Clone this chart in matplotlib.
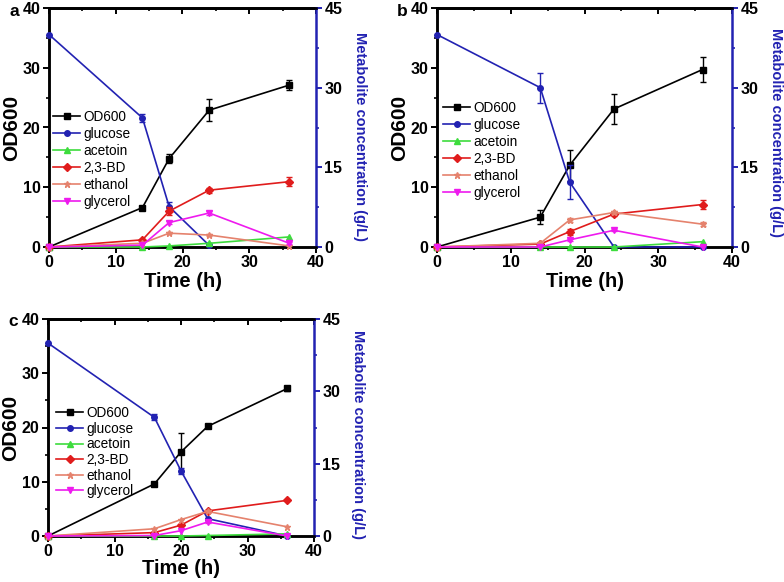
import matplotlib.pyplot as plt
import numpy as np
from matplotlib.ticker import MultipleLocator

plt.rcParams['font.family'] = ['Liberation Sans', 'DejaVu Sans']

W, H = 784, 582

# sampling times (h)
t_ab = [0, 14, 18, 24, 36]
t_c = [0, 16, 20, 24, 36]

# panel a
od_a = [0, 6.6, 14.8, 22.9, 27.1]
od_a_err = [0, 0.3, 0.8, 1.8, 0.9]
glc_a_t = [0, 14, 18, 24]
glc_a = [40.0, 24.3, 7.6, 0.3]
glc_a_err = [0, 0.8, 0.8, 0]
act_a = [0, 0, 0.2, 0.7, 1.9]
bd_a = [0, 1.35, 6.75, 10.7, 12.3]
bd_a_err = [0, 0.2, 0.7, 0.45, 0.8]
eth_a = [0, 0.7, 2.6, 2.25, 0.2]
eth_a_err = [0, 0, 0.2, 0.2, 0]
gly_a = [0, 0.35, 4.6, 6.4, 0.7]
gly_a_err = [0, 0, 0.35, 0.4, 0.2]

# panel b
od_b = [0, 5.0, 13.7, 23.1, 29.7]
od_b_err = [0, 1.2, 2.6, 2.5, 2.1]
glc_b_t = [0, 14, 18, 24, 36]
glc_b = [40.0, 30.0, 12.2, 0, 0]
glc_b_err = [0, 2.8, 3.2, 0, 0]
act_b = [0, 0, 0, 0, 1.0]
bd_b = [0, 0.55, 2.9, 6.2, 8.0]
bd_b_err = [0, 0, 0.55, 0.35, 0.9]
eth_b = [0, 0.7, 5.1, 6.5, 4.3]
eth_b_err = [0, 0, 0.45, 0.2, 0.35]
gly_b = [0, 0, 1.35, 3.15, 0]
gly_b_err = [0, 0, 0.25, 0.15, 0]

# panel c
od_c = [0, 9.6, 15.5, 20.2, 27.2]
od_c_err = [0, 0.3, 3.5, 0.2, 0.5]
glc_c_t = [0, 16, 20, 24, 36]
glc_c = [40.0, 24.6, 13.5, 3.6, 0]
glc_c_err = [0, 0.6, 0.7, 0.2, 0]
act_c = [0, 0, 0, 0.1, 0.45]
bd_c = [0, 0.7, 2.25, 5.2, 7.4]
bd_c_err = [0, 0, 0, 0, 0]
eth_c = [0, 1.5, 3.4, 5.1, 1.9]
eth_c_err = [0, 0, 0, 0, 0]
gly_c = [0, 0.1, 1.1, 2.9, 0]
gly_c_err = [0, 0, 0, 0.15, 0]

BLUE = '#2222b2'
GREEN = '#3ddc3d'
RED = '#e01c1c'
SALMON = '#e5826d'
MAGENTA = '#ee1aee'


def px(x, y):
    return x / W, 1 - y / H


def series(ax, t, y, err, color, marker, ms, label):
    t = np.array(t, float)
    y = np.array(y, float)
    err = np.array(err, float)
    line, = ax.plot(t, y, '-', color=color, marker=marker, ms=ms, lw=1.2,
                    label=label, clip_on=False, zorder=3)
    m = err > 0
    if m.any():
        ax.errorbar(t[m], y[m], yerr=err[m], fmt='none', ecolor=color,
                    elinewidth=1.0, capsize=2.5, capthick=1.0, clip_on=False, zorder=3)
    return line


def panel(box, letter, t, od, od_err, glc_t, glc, glc_err, act, bd, bd_err,
          eth, eth_err, gly, gly_err, leg_xy, leg_sp, xlab_y, rlab_y):
    l, t_, r, b = box
    ax = fig.add_axes([l / W, 1 - b / H, (r - l) / W, (b - t_) / H])
    ax2 = ax.twinx()

    h_od = series(ax, t, od, od_err, 'k', 's', 4, 'OD600')
    h_glc = series(ax2, glc_t, glc, glc_err, BLUE, 'o', 4, 'glucose')
    h_act = series(ax2, t, act, [0] * len(t), GREEN, '^', 5, 'acetoin')
    h_bd = series(ax2, t, bd, bd_err, RED, 'D', 4, '2,3-BD')
    h_eth = series(ax2, t, eth, eth_err, SALMON, '*', 5, 'ethanol')
    h_gly = series(ax2, t, gly, gly_err, MAGENTA, 'v', 5, 'glycerol')

    ax.set_xlim(0, 40)
    ax.set_ylim(0, 40)
    ax2.set_ylim(0, 45)
    ax.set_xticks([0, 10, 20, 30, 40])
    ax.set_yticks([0, 10, 20, 30, 40])
    ax2.set_yticks([0, 15, 30, 45])
    ax.xaxis.set_minor_locator(MultipleLocator(5))
    ax.yaxis.set_minor_locator(MultipleLocator(5))
    ax2.yaxis.set_minor_locator(MultipleLocator(7.5))

    for s in ['left', 'bottom', 'top']:
        ax.spines[s].set_linewidth(1.8)
        ax2.spines[s].set_linewidth(1.8)
    ax2.spines['right'].set_color(BLUE)
    ax2.spines['right'].set_linewidth(1.8)
    ax.spines['right'].set_visible(False)

    for a in (ax, ax2):
        a.tick_params(which='major', direction='out', length=4, width=1.4,
                      labelsize=11.5, pad=2)
        a.tick_params(which='minor', direction='out', length=2.5, width=1.2)
        for lab in a.get_xticklabels() + a.get_yticklabels():
            lab.set_fontweight('bold')
    ax2.tick_params(axis='y', which='both', colors=BLUE, labelcolor='k')

    top = ax.secondary_xaxis('top')
    top.set_xticks([0, 10, 20, 30, 40])
    top.xaxis.set_minor_locator(MultipleLocator(5))
    top.tick_params(which='major', direction='in', length=4, width=1.4, labeltop=False)
    top.tick_params(which='minor', direction='in', length=2.5, width=1.2)
    top.spines['top'].set_linewidth(1.8)

    fig.text(*px(l - 37, (t_ + b) / 2), 'OD600', rotation=90, ha='center', va='center',
             fontsize=15, fontweight='bold')
    fig.text(*px((l + r) / 2, xlab_y), 'Time (h)', ha='center', va='center',
             fontsize=14.5, fontweight='bold')
    fig.text(*px(r + 44, rlab_y), 'Metabolite concentration (g/L)', rotation=270,
             ha='center', va='center', fontsize=10.5, fontweight='bold', color=BLUE)
    fig.text(*px(l - 35, t_ + 3), letter, ha='center', va='center',
             fontsize=12.5, fontweight='bold')

    ax2.legend([h_od, h_glc, h_act, h_bd, h_eth, h_gly],
               ['OD600', 'glucose', 'acetoin', '2,3-BD', 'ethanol', 'glycerol'],
               loc='upper left', bbox_to_anchor=px(*leg_xy),
               bbox_transform=fig.transFigure, frameon=False, fontsize=9.8,
               handlelength=2.0, handletextpad=0.2, labelspacing=leg_sp,
               borderpad=0, borderaxespad=0)


fig = plt.figure(figsize=(W / 100, H / 100), dpi=100)

panel((49, 8, 316, 247), 'a', t_ab, od_a, od_a_err, glc_a_t, glc_a, glc_a_err,
      act_a, bd_a, bd_a_err, eth_a, eth_a_err, gly_a, gly_a_err,
      (53, 110), 0.22, 281, 137)
panel((437, 8, 732, 247), 'b', t_ab, od_b, od_b_err, glc_b_t, glc_b, glc_b_err,
      act_b, bd_b, bd_b_err, eth_b, eth_b_err, gly_b, gly_b_err,
      (443, 101), 0.22, 281, 132)
panel((48, 319, 314, 536), 'c', t_c, od_c, od_c_err, glc_c_t, glc_c, glc_c_err,
      act_c, bd_c, bd_c_err, eth_c, eth_c_err, gly_c, gly_c_err,
      (56, 406), 0.12, 569, 435)

fig.savefig('out.png', dpi=100)
